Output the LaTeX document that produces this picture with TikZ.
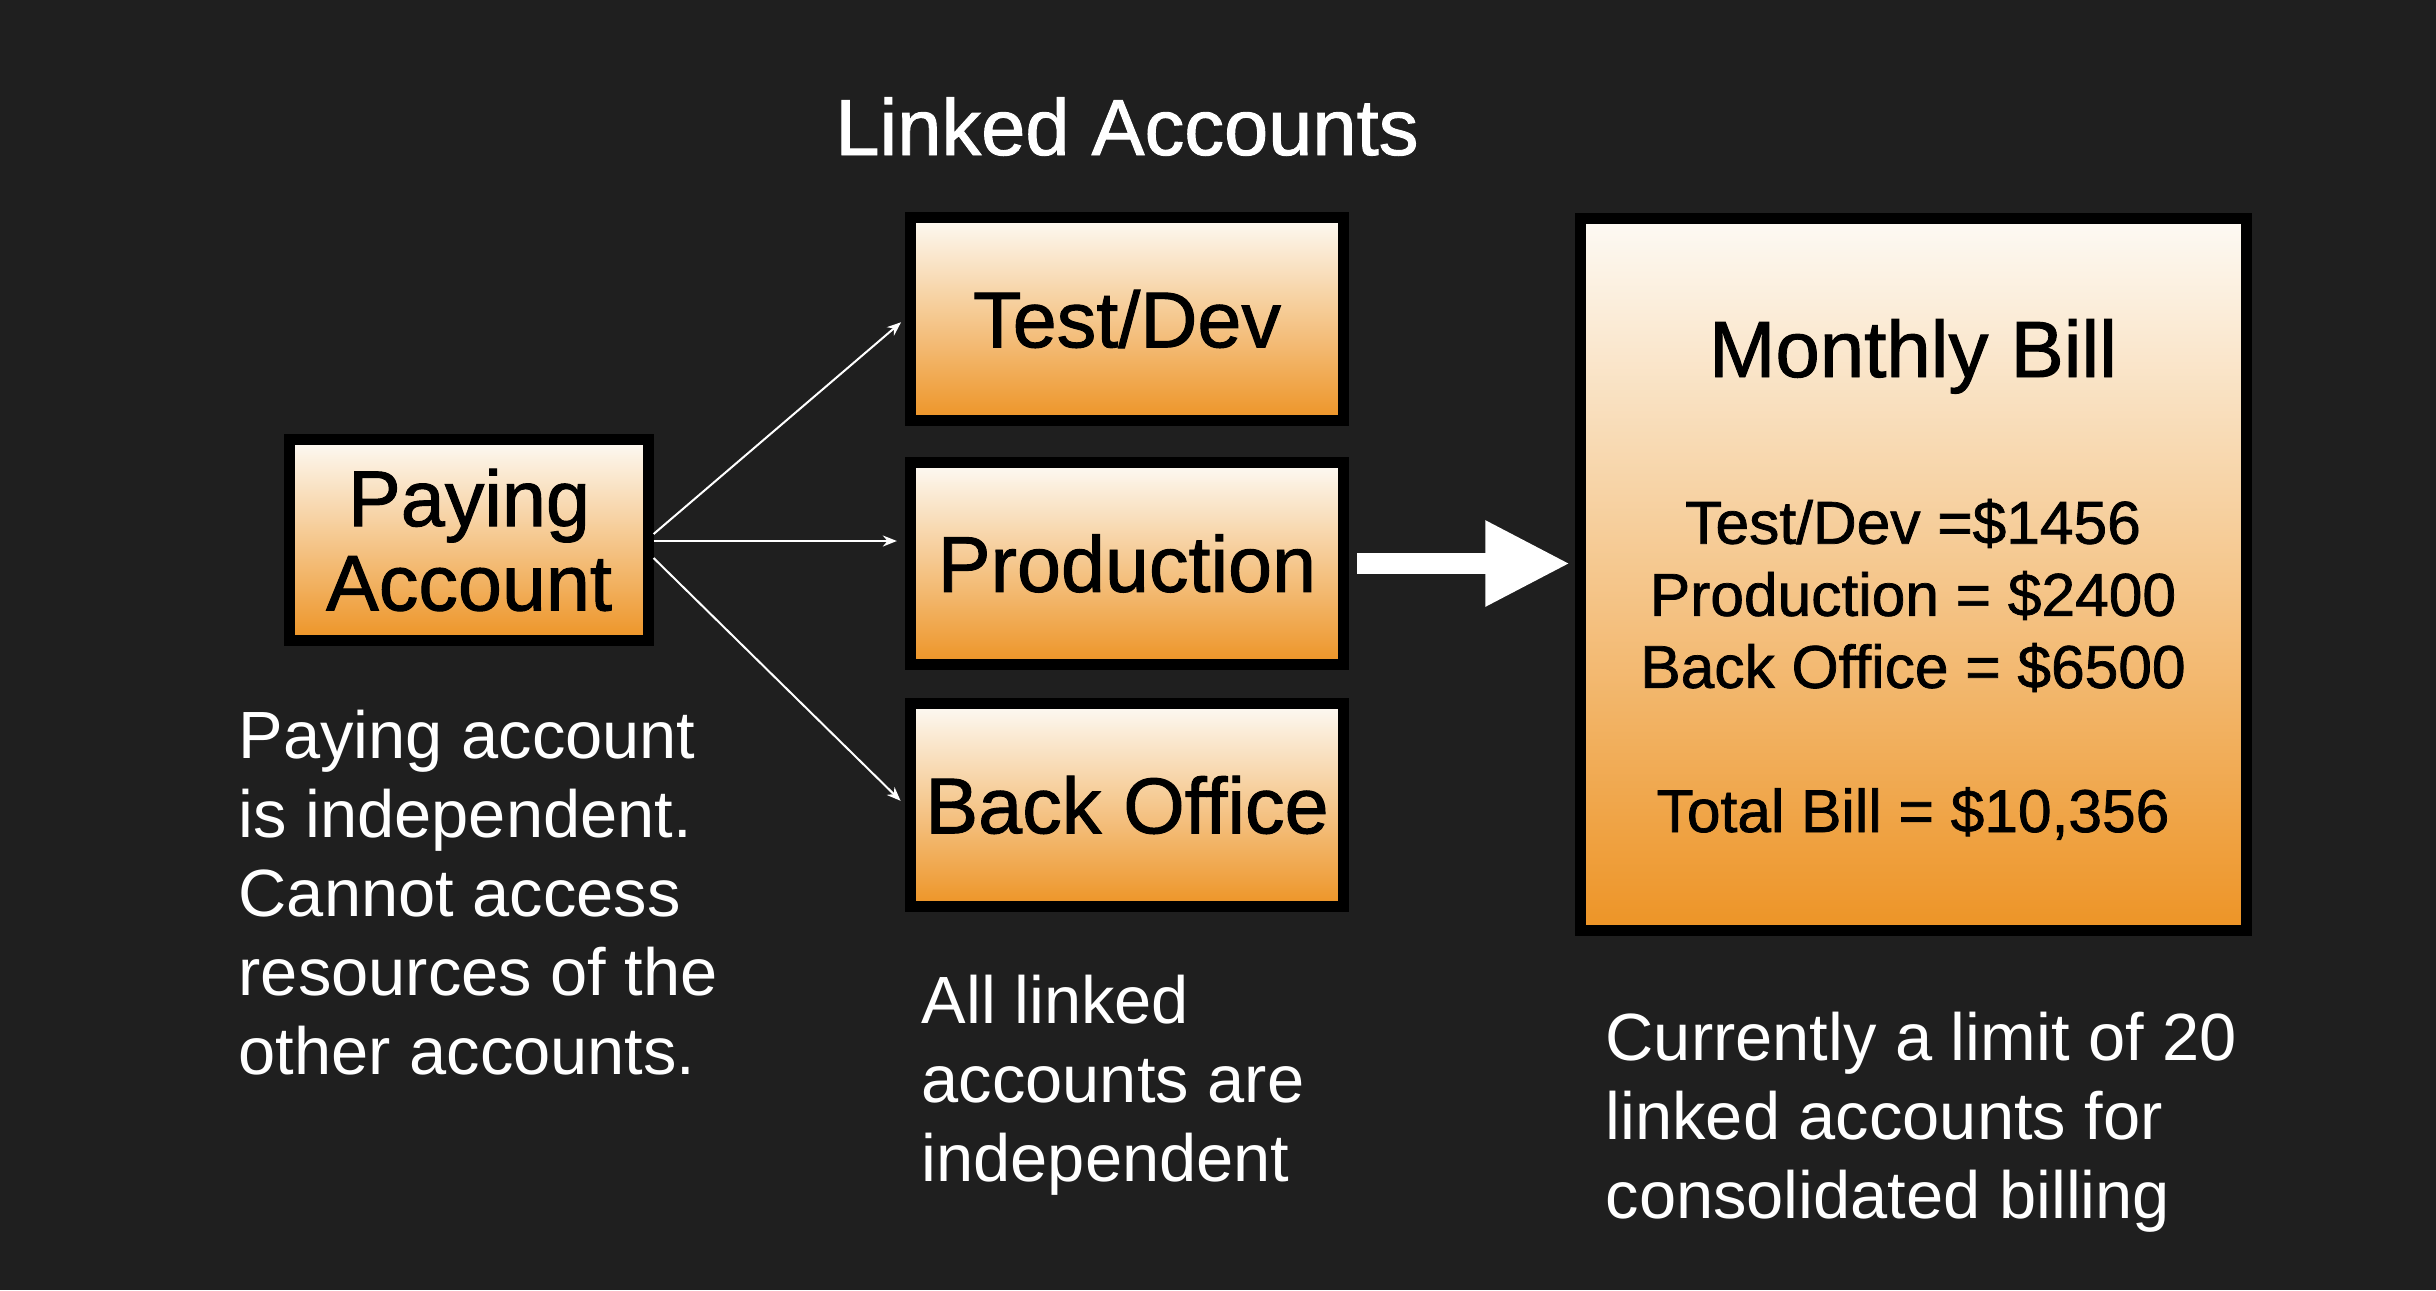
\documentclass[tikz,border=0pt]{standalone}
\usepackage{fontspec}
\setmainfont{Liberation Sans}
\newfontfamily\medfont[FakeBold=1.2]{Liberation Sans}
\usetikzlibrary{arrows.meta}

\definecolor{bgdark}{RGB}{31,31,31}
\definecolor{acctop}{RGB}{253,250,244}
\definecolor{accbot}{RGB}{237,148,38}

\tikzset{
  acct/.style={draw=black, line width=0.11cm, top color=acctop, bottom color=accbot,
    inner sep=0pt, align=center, text=black,
    font=\medfont\fontsize{22.5}{24}\selectfont},
  caption/.style={text=white, align=left, anchor=base west, inner sep=0pt,
    font=\fontsize{19}{22.4}\selectfont},
  billtext/.style={text=black, align=center, anchor=base, inner sep=0pt,
    font=\medfont\fontsize{17.2}{20.5}\selectfont},
  link/.style={draw=white, line width=0.02cm, -{Stealth[length=0.14cm,width=0.11cm]}},
  bigarrow/.style={draw=white, line width=0.21cm, -{Triangle[length=0.85cm,width=0.8cm]}}
}

\begin{document}
\begin{tikzpicture}[x=0.01cm, y=-0.01cm]
  \fill[bgdark] (0,0) rectangle (2436,1290);
  \useasboundingbox (0,0) rectangle (2436,1290);

  \node (head) at (1127,155) [anchor=base, text=white, inner sep=0pt,
    font=\medfont\fontsize{22.6}{24}\selectfont] {Linked Accounts};

  \node (pay) at (469,540) [acct, minimum width=3.58cm, minimum height=2cm] {Paying\\Account};
  \node (test) at (1127,319) [acct, minimum width=4.33cm, minimum height=2.03cm] {Test/Dev};
  \node (prod) at (1127,563.5) [acct, minimum width=4.33cm, minimum height=2.01cm] {Production};
  \node (back) at (1127,805) [acct, minimum width=4.33cm, minimum height=2.02cm] {Back Office};
  \node (bill) at (1913.5,574.5) [acct, minimum width=6.65cm, minimum height=7.12cm] {};

  \coordinate (mid) at ([yshift=-0.01cm]pay.east);
  \draw[link, shorten >=0.05cm] ([yshift=0.06cm]pay.east) -- (test.west);
  \draw[link, shorten >=0.08cm] (mid) -- (mid -| prod.west);
  \draw[link, shorten >=0.06cm] ([yshift=-0.18cm]pay.east) -- (back.west);

  \draw[bigarrow, shorten <=0.08cm, shorten >=0.05cm] (prod.east) -- (prod.east -| bill.west);

  \node (billhead) at (1913,377) [billtext, font=\medfont\fontsize{22.7}{24}\selectfont] {Monthly Bill};
  \node (billsum) at (1913,832) [billtext] {Test/Dev =\$1456\\Production = \$2400\\Back Office = \$6500\\[0.72cm]Total Bill = \$10,356};

  \node (paynote) at (238,1074) [caption] {Paying account\\is independent.\\Cannot access\\resources of the\\other accounts.};
  \node (linknote) at (921,1181) [caption] {All linked\\accounts are\\independent};
  \node (limitnote) at (1605,1218) [caption] {Currently a limit of 20\\linked accounts for\\consolidated billing};
\end{tikzpicture}
\end{document}
